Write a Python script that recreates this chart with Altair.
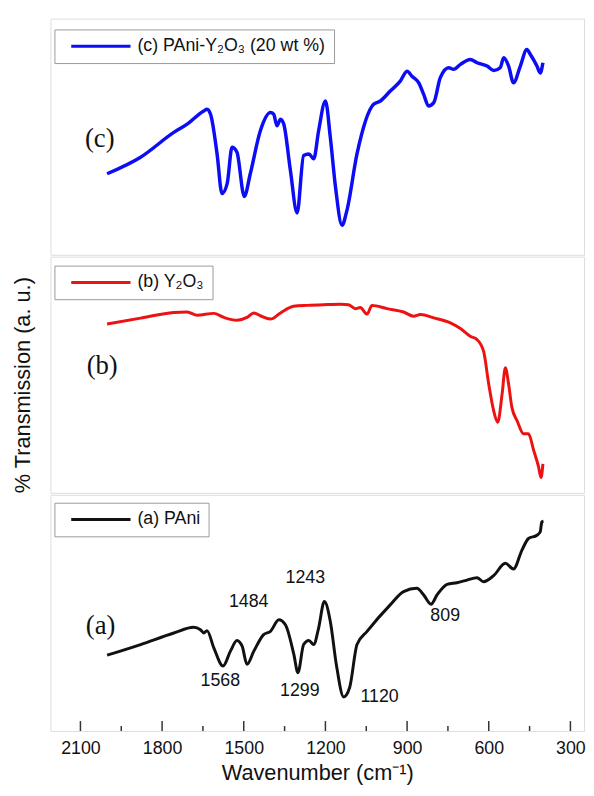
import altair as alt
import pandas as pd

# ---- data ----
c_wn = [2002, 1879, 1757, 1708, 1647, 1635, 1622, 1598, 1580, 1561, 1543, 1525, 1498, 1476, 1439, 1402, 1390, 1378,
        1365, 1353, 1329, 1304, 1280, 1261, 1243, 1225, 1200, 1182, 1163, 1139, 1121, 1084, 1023, 998, 962, 925, 900,
        882, 857, 839, 821, 802, 778, 747, 729, 704, 668, 643, 606, 582, 558, 545, 527, 509, 484, 460, 447, 423, 411, 401]
c_val = [34.3, 41.3, 51.8, 55.3, 60.9, 61.6, 59.5, 42.7, 25.9, 30.1, 45.5, 43.4, 24.7, 34.3, 52.5, 60.2, 59.5, 54.6,
         57.4, 55.3, 36.0, 17.7, 42.0, 42.7, 40.6, 52.5, 65.1, 49.7, 28.7, 12.5, 18.8, 42.7, 63.7, 65.1, 69.3, 73.5, 77.7,
         75.6, 72.8, 67.9, 63.0, 64.4, 75.0, 79.2, 78.5, 80.6, 82.7, 81.3, 79.9, 78.0, 79.2, 83.4, 79.9, 72.8, 79.9,
         86.9, 84.8, 79.9, 77.0, 81.3]

b_wn = [2002, 1879, 1757, 1708, 1671, 1610, 1573, 1525, 1488, 1463, 1439, 1402, 1365, 1317, 1267, 1206, 1145, 1115,
        1090, 1072, 1047, 1029, 974, 913, 876, 851, 802, 741, 704, 668, 643, 619, 600, 582, 567, 551, 539, 527, 515,
        496, 472, 454, 435, 417, 408, 401]
b_val = [71.5, 74.0, 76.4, 76.6, 75.2, 76.0, 74.3, 73.1, 74.3, 76.2, 75.0, 73.6, 76.2, 79.0, 79.4, 79.7, 79.9, 79.7,
         78.0, 78.5, 75.7, 79.4, 78.0, 76.6, 74.8, 75.5, 74.1, 72.0, 69.6, 66.3, 64.9, 60.0, 46.0, 34.8, 29.9, 41.8,
         53.0, 46.0, 36.2, 30.6, 25.0, 25.0, 18.0, 11.0, 6.5, 12.3]

a_wn = [2002, 1879, 1757, 1684, 1659, 1647, 1635, 1610, 1576, 1549, 1525, 1506, 1488, 1463, 1427, 1402, 1371, 1347,
        1316, 1301, 1280, 1261, 1243, 1225, 1204, 1182, 1160, 1133, 1111, 1084, 1047, 962, 913, 864, 839, 812, 790,
        753, 717, 680, 643, 619, 582, 539, 509, 478, 454, 423, 411, 405, 399]
a_val = [32.1, 36.6, 41.5, 43.9, 42.9, 41.5, 42.5, 35.2, 27.5, 33.8, 38.3, 35.9, 28.2, 33.8, 40.8, 42.2, 47.1, 45.0,
         32.4, 24.7, 36.6, 38.3, 36.6, 43.6, 54.8, 46.4, 28.2, 14.4, 18.4, 36.6, 42.2, 53.4, 59.0, 60.4, 57.6, 53.7,
         57.6, 62.1, 62.8, 63.9, 64.9, 63.2, 65.8, 71.0, 68.6, 76.6, 81.5, 82.9, 84.3, 88.5, 88.8]

series_names = ["(c) PAni-Y\u2082O\u2083 (20 wt %)", "(b) Y\u2082O\u2083", "(a) PAni"]
series_colors = ["#0c0cf5", "#ee1111", "#111111"]
series_widths = [3.5, 3, 3]
panel_letters = ["(c)", "(b)", "(a)"]
letter_wn = [2029, 2020, 2026]
letter_val = [49.0, 53.7, 44.4]

peak_text = ["1568", "1484", "1243", "1299", "1120", "809"]
peak_wn = [1586, 1482, 1274, 1294, 1001, 760]
peak_val = [21.2, 54.8, 64.9, 16.9, 14.4, 48.5]

major_ticks = [2100, 1800, 1500, 1200, 900, 600, 300]
minor_ticks = [1950, 1650, 1350, 1050, 750, 450]

SANS = "Liberation Sans"
SERIF = "Liberation Serif"
W, H = 540, 239


def panel(wn, val, idx, bottom, legend_y):
    df = pd.DataFrame({"wn": wn, "v": val, "series": series_names[idx]})
    if bottom:
        xaxis = alt.Axis(values=major_ticks, format="d", labelFontSize=18, labelFont=SANS, labelColor="#111",
                         ticks=False, domain=False, grid=False, labelPadding=9,
                         title="Wavenumber (cm\u207b\u00b9)", titleFont=SANS, titleFontSize=22,
                         titleFontWeight="normal", titleColor="#111", titlePadding=5)
    else:
        xaxis = None
    X = alt.X("wn:Q", scale=alt.Scale(domain=[250, 2210], reverse=True, nice=False, zero=False), axis=xaxis)
    Y = alt.Y("v:Q", scale=alt.Scale(domain=[0, 100], nice=False),
              axis=alt.Axis(title="% Transmission (a. u.)", labels=False, ticks=False, domain=False, grid=False,
                            titleFont=SANS, titleFontSize=22, titleFontWeight="normal", titleColor="#111",
                            titlePadding=16, titleY=H / 2 + 10, titleOpacity=1 if idx == 1 else 0))
    line = alt.Chart(df).mark_line(strokeWidth=series_widths[idx], interpolate="monotone").encode(
        x=X, y=Y,
        color=alt.Color("series:N", scale=alt.Scale(domain=[series_names[idx]], range=[series_colors[idx]]),
                        legend=alt.Legend(orient="none", legendX=4, legendY=legend_y, title=None,
                                          symbolType="M0,0H8", symbolSize=225, symbolStrokeWidth=3,
                                          labelOffset=58, labelFontSize=18, labelFont=SANS, labelColor="#111",
                                          padding=8, strokeColor="#999", fillColor="white", labelLimit=400)),
    )
    ldf = pd.DataFrame({"wn": [letter_wn[idx]], "v": [letter_val[idx]], "t": [panel_letters[idx]]})
    letter = alt.Chart(ldf).mark_text(font=SERIF, fontSize=27, color="#111", align="center",
                                      baseline="middle").encode(x=X, y=Y, text="t:N")
    layers = [line, letter]
    if bottom:
        pdf = pd.DataFrame({"wn": peak_wn, "v": peak_val, "t": peak_text})
        peaks = alt.Chart(pdf).mark_text(font=SANS, fontSize=18, color="#111", align="center",
                                         baseline="middle").encode(x=X, y=Y, text="t:N")
        tmaj = alt.Chart(pd.DataFrame({"wn": major_ticks})).mark_rule(color="#333", strokeWidth=1.5).encode(
            x=X, y=alt.value(H - 10), y2=alt.value(H))
        tmin = alt.Chart(pd.DataFrame({"wn": minor_ticks})).mark_rule(color="#333", strokeWidth=1.5).encode(
            x=X, y=alt.value(H - 5), y2=alt.value(H))
        layers += [peaks, tmaj, tmin]
    return alt.layer(*layers).properties(width=W, height=H)


top = panel(c_wn, c_val, 0, False, 11)
mid = panel(b_wn, b_val, 1, False, 9)
bot = panel(a_wn, a_val, 2, True, 8)

chart = alt.vconcat(top, mid, bot, spacing=0).resolve_scale(color="independent").resolve_legend(
    color="independent"
).properties(
    padding={"left": 3, "top": 5, "right": 0, "bottom": 0}
).configure_view(stroke="#333", strokeWidth=2).configure(background="white")

chart.save("out.html", embed_options={"renderer": "svg", "actions": False})
